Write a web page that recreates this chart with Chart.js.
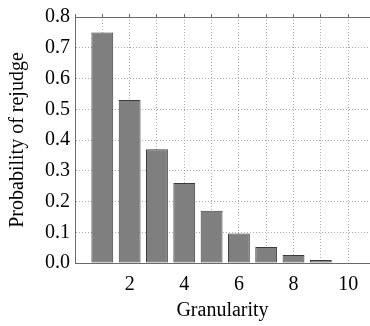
<!DOCTYPE html>
<html>
<head>
<meta charset="utf-8">
<script src="https://cdn.jsdelivr.net/npm/chart.js@4.4.0/dist/chart.umd.min.js"></script>
<style>
    html, body { margin: 0; padding: 0; background: #fff; }
</style>
</head>
<body>
<canvas id="chart" width="370" height="326"></canvas>
<script>
// data
const granularity = [1, 2, 3, 4, 5, 6, 7, 8, 9, 10];
const rejudgeProb = [0.75, 0.53, 0.37, 0.26, 0.17, 0.096, 0.052, 0.026, 0.01, 0.0];
const xTickLabels = [2, 4, 6, 8, 10];
const yTickStep = 0.1;

const serif = { family: '"Liberation Serif", "DejaVu Serif", serif', size: 20 };
const gridColor = '#a8a8a8';
const axisColor = '#6a6a6a';

new Chart(document.getElementById('chart').getContext('2d'), {
    type: 'bar',
    data: {
        datasets: [{
            data: granularity.map((g, i) => ({ x: g, y: rejudgeProb[i] })),
            backgroundColor: '#7f7f7f',
            borderColor: '#3a3a3a',
            borderWidth: 1,
            borderSkipped: false,
            barPercentage: 0.8,
            categoryPercentage: 1.0
        }]
    },
    options: {
        responsive: false,
        animation: false,
        devicePixelRatio: 1,
        layout: { padding: { top: 11, right: 0, bottom: 0, left: 0 } },
        plugins: { legend: { display: false }, tooltip: { enabled: false } },
        scales: {
            x: {
                type: 'linear',
                position: 'bottom',
                offset: false,
                min: 0,
                max: 10.8,
                afterFit: s => { s.height = 63; },
                ticks: {
                    stepSize: 1,
                    includeBounds: false,
                    autoSkip: false,
                    maxRotation: 0,
                    padding: 10,
                    color: '#000',
                    font: serif,
                    callback: v => xTickLabels.includes(v) ? String(v) : ''
                },
                grid: { color: gridColor, drawTicks: false, offset: false },
                border: { color: axisColor, dash: [1, 2] },
                title: { display: true, text: 'Granularity', color: '#000', font: serif, padding: { top: 0, bottom: 3 } }
            },
            x2: {
                type: 'linear',
                axis: 'x',
                position: 'top',
                offset: false,
                min: 0,
                max: 10.8,
                ticks: { display: false, stepSize: 1, includeBounds: false },
                grid: { drawOnChartArea: false, drawTicks: true, tickLength: 3, color: axisColor, offset: false },
                border: { color: axisColor }
            },
            y: {
                min: 0,
                max: 0.8,
                afterFit: s => { s.width = 75; },
                ticks: {
                    stepSize: yTickStep,
                    padding: 5,
                    color: '#000',
                    font: serif,
                    callback: v => v.toFixed(1)
                },
                grid: { color: gridColor, drawTicks: false },
                border: { color: axisColor, dash: [1, 2] },
                title: { display: true, text: 'Probability of rejudge', color: '#000', font: serif, padding: { top: 6, bottom: 0 } }
            }
        }
    }
});
</script>
</body>
</html>
